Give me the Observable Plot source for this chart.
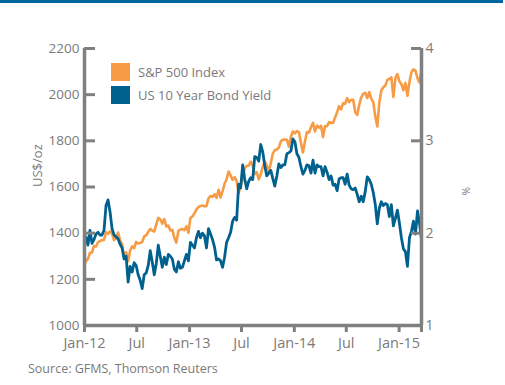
<!DOCTYPE html>
<html>
<head>
<meta charset="utf-8">
<script src="https://cdn.jsdelivr.net/npm/d3@7"></script>
<script src="https://cdn.jsdelivr.net/npm/@observablehq/plot@0.6"></script>
<style>
  body { margin: 0; background: #fff; font-family: "Open Sans", sans-serif; }
  #wrap { position: relative; width: 505px; height: 385px; overflow: hidden; background: #fff; }
  #bar { position: absolute; left: 0; top: 0; width: 503px; height: 3px; background: #00679e; }
  .leg { position: absolute; left: 111px; height: 18px; display: flex; align-items: center; font-size: 13px; color: #7a7a7a; white-space: nowrap; }
  .sw { width: 19px; height: 18px; margin-right: 8px; }
  #src { position: absolute; left: 28px; top: 360px; font-size: 12.5px; color: #7a7a7a; white-space: nowrap; }
  #chart { position: absolute; left: 0; top: 0; }
</style>
</head>
<body>
<div id="wrap">
  <div id="chart"></div>
  <div id="bar"></div>
  <div id="leg"></div>
  <div id="src"></div>
</div>
<script>
// ---- data ----
const seriesNames = ["S&P 500 Index", "US 10 Year Bond Yield"];
const seriesColors = ["#f79b45", "#00618f"];
const source = "Source: GFMS, Thomson Reuters";
const leftLabel = "US$/oz";
const rightLabel = "%";

// weekly (Friday) observations from 6 Jan 2012 to 20 Mar 2015
const firstWeek = "2012-01-06";
const lastWeek = "2015-03-20";

const sp500 = [
  // 2012
  1278,1289,1315,1316, 1345,1342,1361,1366, 1370,1371,1404,1397,1408,
  1398,1370,1378,1403, 1369,1353,1295,1318, 1278,1325,1343,1335,1362,
  1355,1357,1362,1386, 1391,1405,1418,1411,1407, 1438,1466,1460,1441,
  1461,1429,1433,1412, 1414,1380,1359,1409,1416, 1418,1413,1430,1402,
  // 2013
  1466,1472,1486,1503, 1513,1518,1520,1516, 1518,1551,1561,1557,1569,
  1553,1588,1555,1582, 1614,1634,1667,1650,1631, 1643,1626,1573,1606,
  1632,1680,1692,1692, 1710,1691,1656,1664,1633, 1655,1688,1710,1692,
  1666,1703,1745,1760, 1762,1771,1798,1805,1806, 1805,1775,1818,1841,
  // 2014
  1832,1842,1838,1790,1750, 1797,1838,1836,1859, 1878,1841,1866,1857,
  1865,1816,1864,1863, 1881,1878,1878,1901,1924, 1950,1936,1963,1961,
  1985,1968,1978,1978, 1925,1912,1955,1988,2003, 2008,1985,2011,1982,
  1968,1906,1862,1965,2018, 2032,2040,2064,2068, 2075,1990,2071,2089,
  // 2015
  2058,2045,2019,2051,1995, 2055,2097,2110,2104, 2071,2053,2108
];

const bondYield = [
  // 2012
  1.96,1.87,2.03,1.89, 1.93,1.99,2.01,1.98, 1.98,2.03,2.30,2.36,2.23,
  2.05,1.98,1.96,1.94, 1.88,1.84,1.72,1.75, 1.47,1.64,1.58,1.68,1.65,
  1.55,1.49,1.40,1.55, 1.57,1.65,1.81,1.69,1.55, 1.67,1.87,1.75,1.63,
  1.74,1.66,1.77,1.75, 1.72,1.61,1.58,1.69,1.62, 1.63,1.70,1.77,1.70,
  // 2013
  1.90,1.87,1.84,1.95, 2.02,1.95,2.00,1.97, 1.84,2.05,1.99,1.93,1.85,
  1.71,1.72,1.70,1.63, 1.74,1.90,1.95,2.01,2.13, 2.17,2.14,2.53,2.49,
  2.74,2.59,2.48,2.56, 2.60,2.58,2.83,2.82,2.78, 2.96,2.88,2.73,2.62,
  2.65,2.68,2.59,2.51, 2.62,2.75,2.71,2.74,2.74, 2.86,2.87,2.89,3.02,
  // 2014
  2.99,2.86,2.82,2.72,2.64, 2.68,2.74,2.73,2.65, 2.79,2.65,2.74,2.72,
  2.72,2.62,2.72,2.66, 2.58,2.62,2.52,2.53,2.46, 2.59,2.60,2.60,2.53,
  2.64,2.52,2.48,2.47, 2.49,2.42,2.34,2.40,2.34, 2.45,2.61,2.58,2.53,
  2.44,2.31,2.10,2.27,2.34, 2.30,2.32,2.31,2.18, 2.31,2.08,2.16,2.25,
  // 2015
  2.11,1.95,1.83,1.80,1.64, 1.95,2.02,2.13,1.99, 2.24,2.11,1.93
];

const leftTicks = [1000, 1200, 1400, 1600, 1800, 2000, 2200];
const rightTicks = [1, 2, 3, 4];
const xTickDates = ["2012-01-01","2012-07-01","2013-01-01","2013-07-01","2014-01-01","2014-07-01","2015-01-01"];
const xTickLabels = ["Jan-12","Jul","Jan-13","Jul","Jan-14","Jul","Jan-15"];
const xDomain = ["2012-01-01", "2015-03-20"];

// ---- build ----
const weeks = d3.utcFriday.range(new Date(firstWeek), d3.utcDay.offset(new Date(lastWeek), 1));
const n = Math.min(weeks.length, sp500.length, bondYield.length);
const spData = d3.range(n).map(i => ({date: weeks[i], v: sp500[i]}));
const ylData = d3.range(n).map(i => ({date: weeks[i], v: bondYield[i]}));

// right axis (%) mapped onto left axis: 1% ↔ 1000, 4% ↔ 2200
const toLeft = p => 1000 + (p - 1) * 400;

const xTicks = xTickDates.map(s => new Date(s));
const xStart = new Date(xDomain[0]), xEnd = new Date(xDomain[1]);
const labelOf = new Map(xTicks.map((d, i) => [+d, xTickLabels[i]]));

const gray = "#808080";
const textGray = "#7a7a7a";
const plotW = 505 - 84 - 84;

const chart = Plot.plot({
  width: 505,
  height: 385,
  marginLeft: 84,
  marginRight: 84,
  marginTop: 48,
  marginBottom: 60,
  style: {fontFamily: "'Open Sans', sans-serif", color: textGray, background: "transparent"},
  x: {type: "utc", domain: [xStart, xEnd]},
  y: {domain: [1000, 2200]},
  marks: [
    Plot.line(spData, {x: "date", y: "v", stroke: seriesColors[0], strokeWidth: 2.6}),
    Plot.line(ylData, {x: "date", y: d => toLeft(d.v), stroke: seriesColors[1], strokeWidth: 2.8}),
    Plot.axisY({ticks: leftTicks, tickFormat: d => String(d), tickSize: 0, tickPadding: 5, fontSize: 13.5, label: null, fill: textGray}),
    Plot.axisY({anchor: "right", ticks: rightTicks.map(toLeft), tickFormat: d => String(Math.round((d - 1000) / 400 + 1)),
      tickSize: 0, tickPadding: 4, fontSize: 14, label: null, fill: textGray}),
    Plot.axisX({ticks: xTicks, tickFormat: d => labelOf.get(+d), tickSize: 0, tickPadding: 12, fontSize: 14.5, label: null, fill: textGray}),
    Plot.axisX({ticks: xTicks.concat([xEnd]), text: null, tickSize: 7, stroke: gray, strokeWidth: 3, label: null}),
    Plot.tickY(leftTicks, {y: d => d, insetRight: plotW - 11, stroke: gray, strokeWidth: 3}),
    Plot.tickY(rightTicks.map(toLeft), {y: d => d, insetLeft: plotW - 10, stroke: gray, strokeWidth: 3}),
    Plot.ruleX([xStart], {y1: 1000, y2: 2200, stroke: gray, strokeWidth: 3.5}),
    Plot.ruleX([xEnd], {y1: 1000, y2: 2200, stroke: gray, strokeWidth: 3.5}),
    Plot.ruleY([1000], {stroke: gray, strokeWidth: 3.5}),
    Plot.text([leftLabel], {text: d => d, frameAnchor: "left", dx: -47, rotate: -90, fontSize: 13, fill: textGray}),
    Plot.text([rightLabel], {text: d => d, frameAnchor: "right", dx: 45, rotate: -90, fontSize: 10, fill: textGray})
  ]
});
document.getElementById("chart").appendChild(chart);

// legend
const leg = document.getElementById("leg");
seriesNames.forEach((name, i) => {
  const row = document.createElement("div");
  row.className = "leg";
  row.style.top = (63 + i * 23) + "px";
  const sw = document.createElement("div");
  sw.className = "sw";
  sw.style.background = seriesColors[i];
  const t = document.createElement("span");
  t.textContent = name;
  row.appendChild(sw);
  row.appendChild(t);
  leg.appendChild(row);
});
document.getElementById("src").textContent = source;
</script>
</body>
</html>
